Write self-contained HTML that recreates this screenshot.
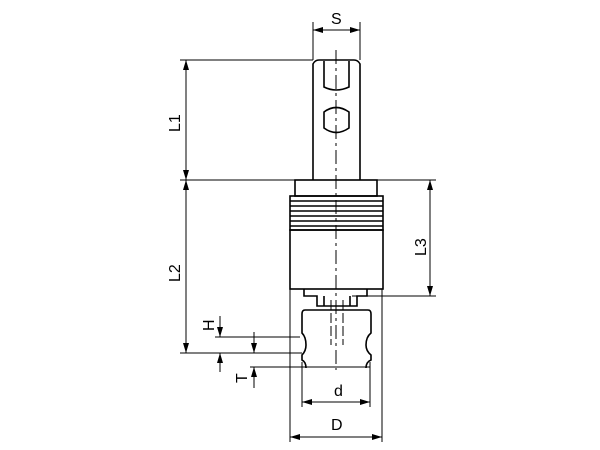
<!DOCTYPE html>
<html><head><style>html,body{margin:0;padding:0;background:#fff}svg{display:block}text{font-family:"Liberation Sans",sans-serif;font-size:16px;fill:#000}</style></head>
<body>
<svg width="600" height="450" viewBox="0 0 600 450" xmlns="http://www.w3.org/2000/svg" fill="none" stroke="#000">
<defs><marker id="a" viewBox="0 0 10 6" refX="10" refY="3" markerWidth="10" markerHeight="6" orient="auto-start-reverse"><path d="M0,0 L10,3 L0,6z" fill="#000" stroke="none"/></marker></defs>
<g stroke-width="1.6">
<!-- shank -->
<path d="M313,180 V64 Q315,60 319,60 H354 Q358,60 360,64 V180"/>
<path d="M324,61 V87 Q336,93 349,87 V61"/>
<path d="M324,112 Q336,103 349,112 V128 Q336,137 324,128 Z"/>
<!-- collar & threads -->
<rect x="295" y="180" width="82" height="16"/>
<rect x="290" y="196" width="93" height="34"/>
<path d="M290,201 H383 M290,206 H383 M290,211 H383 M290,216 H383 M290,221 H383 M290,226 H383"/>
<rect x="290" y="230" width="93" height="59"/>
<!-- flange -->
<path d="M304,289 V296 H317 V306 H357 V296 H367 V289"/>
<path d="M324,296 V306 M350,296 V306"/>
<!-- cartridge -->
<path d="M305,310 H368 Q371,310 371,314 V333 Q366,337 366,345 Q366,351 371,355 V360 Q366,362 366,368 M305,310 Q302,310 302,314 V333 Q306,337 306,345 Q306,351 302,355 V360 Q306,362 306,368"/>
</g>
<g stroke-width="1">
<!-- centerline -->
<path d="M336,50 V370" stroke-dasharray="14,4,3,4"/>
<path d="M331,300 V345 M343,300 V345" stroke-dasharray="10,3"/>
<!-- extension lines -->
<path d="M180,60 H313 M313,60 V22 M360,60 V22 M180,180 H436 M180,353 H302 M352,296 H436 M290,289 V442 M382,289 V442 M302,362 V407 M370,362 V407 M215,337 H300 M250,367 H370"/>
<!-- dim lines -->
<path d="M313,30 H360" marker-start="url(#a)" marker-end="url(#a)"/>
<path d="M186,60 V180" marker-start="url(#a)" marker-end="url(#a)"/>
<path d="M186,180 V353" marker-start="url(#a)" marker-end="url(#a)"/>
<path d="M430,180 V296" marker-start="url(#a)" marker-end="url(#a)"/>
<path d="M220,316 V337" marker-end="url(#a)"/>
<path d="M220,372 V353" marker-end="url(#a)"/>
<path d="M254,332 V353" marker-end="url(#a)"/>
<path d="M254,388 V367" marker-end="url(#a)"/>
<path d="M302,402 H370" marker-start="url(#a)" marker-end="url(#a)"/>
<path d="M290,437 H382" marker-start="url(#a)" marker-end="url(#a)"/>
</g>
<g stroke="none" fill="#000">
<text x="331" y="24">S</text>
<text x="334" y="396">d</text>
<text x="331" y="430">D</text>
<text transform="translate(180,132) rotate(-90)">L1</text>
<text transform="translate(180,282) rotate(-90)">L2</text>
<text transform="translate(426,256) rotate(-90)">L3</text>
<text transform="translate(214,331) rotate(-90)">H</text>
<text transform="translate(247,383) rotate(-90)">T</text>
</g>
</svg>
</body></html>
